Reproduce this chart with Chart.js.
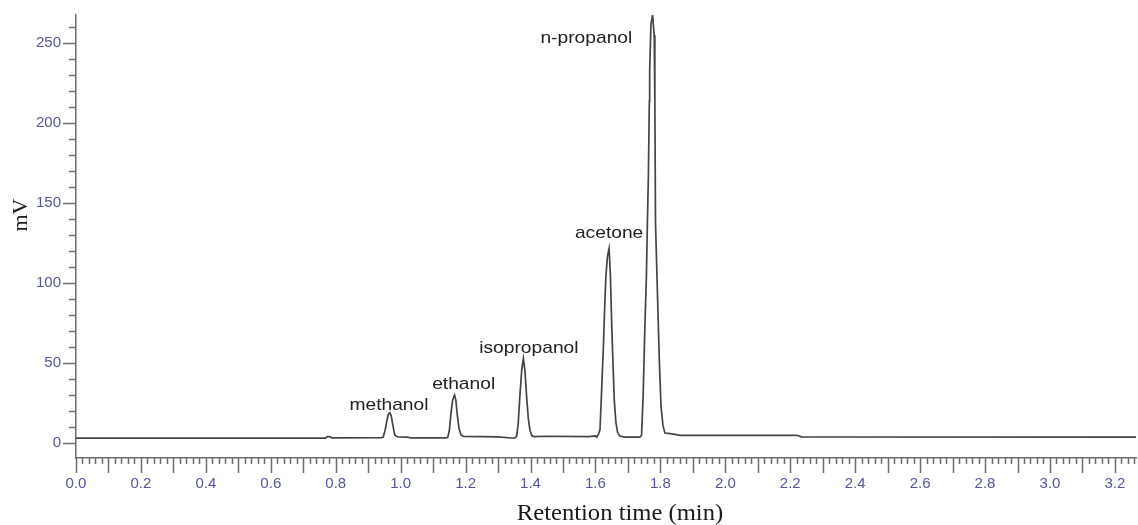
<!DOCTYPE html>
<html>
<head>
<meta charset="utf-8">
<title>Chromatogram</title>
<script src="https://cdn.jsdelivr.net/npm/chart.js@4"></script>
<style>
  html, body { margin: 0; padding: 0; background: #ffffff; }
  canvas { display: block; }
</style>
</head>
<body>
<canvas id="chromatogram" width="1138" height="525"></canvas>
<script>
// Detector trace: retention time (min) and signal (mV)
const retentionTime = [
  0.000, 0.768, 0.774, 0.781, 0.788, 0.940,
  0.946, 0.952, 0.957, 0.962, 0.967, 0.971, 0.975, 0.979, 0.982, 0.988, 0.993,
  1.020, 1.030, 1.140,
  1.145, 1.150, 1.155, 1.160, 1.166, 1.170, 1.175, 1.180, 1.186, 1.193,
  1.250, 1.300, 1.340, 1.352,
  1.357, 1.362, 1.367, 1.373, 1.378, 1.383, 1.388, 1.393, 1.398, 1.404, 1.410,
  1.450, 1.580, 1.600,
  1.604, 1.609, 1.614, 1.619, 1.624, 1.628, 1.632, 1.637, 1.642, 1.646, 1.650,
  1.654, 1.658, 1.663, 1.668, 1.675, 1.690,
  1.737, 1.742, 1.747, 1.752, 1.757, 1.760, 1.763, 1.766, 1.767, 1.771, 1.776,
  1.781, 1.783, 1.785, 1.789, 1.793, 1.797, 1.802, 1.808, 1.814, 1.830, 1.845,
  1.860, 2.220, 2.235, 3.265
];
const signal = [
  3.2, 3.2, 4.2, 4.2, 3.4, 3.5,
  3.8, 8.0, 13.5, 18.0, 19.1, 17.0, 12.6, 8.0, 5.2, 4.2, 4.0,
  3.9, 3.4, 3.4,
  3.7, 8.0, 18.7, 27.0, 30.2, 27.0, 16.6, 9.0, 5.2, 4.3,
  4.1, 4.0, 3.3, 3.3,
  4.2, 12.0, 29.0, 46.0, 53.0, 45.0, 29.0, 16.0, 8.3, 4.8, 4.1,
  4.4, 4.2, 4.6,
  3.8, 5.5, 8.5, 33.0, 58.0, 82.0, 104.0, 117.0, 121.7, 105.0, 75.0,
  50.0, 27.0, 13.0, 7.0, 4.5, 3.8,
  3.8, 5.0, 30.0, 70.8, 105.0, 137.7, 166.6, 214.0, 233.0, 262.0, 267.7,
  255.0, 214.0, 137.7, 108.0, 79.0, 50.0, 23.0, 11.0, 6.4, 6.0, 5.6,
  5.0, 5.0, 4.0, 3.9
];

// Peak identification labels (text anchored at time / level)
const peakNames = ['methanol', 'ethanol', 'isopropanol', 'acetone', 'n-propanol'];
const peakLabelTime = [0.964, 1.194, 1.395, 1.642, 1.572];
const peakLabelLevel = [21.1, 33.75, 56.25, 128.1, 250.0];

// Labelled tick values
const xTickLabels = [0.0, 0.2, 0.4, 0.6, 0.8, 1.0, 1.2, 1.4, 1.6, 1.8, 2.0, 2.2, 2.4, 2.6, 2.8, 3.0, 3.2];
const yTickLabels = [0, 50, 100, 150, 200, 250];

const xTitle = 'Retention time (min)';
const yTitle = 'mV';

const near = (a, b) => Math.abs(a - b) < 1e-6;

// Tick marks, peak names and axis titles drawn on top of the chart
const chromatogramDecor = {
  id: 'chromatogramDecor',
  afterDraw(chart) {
    const { ctx, chartArea: area, scales: { x, y } } = chart;
    ctx.save();

    // tick marks outside the plot area
    ctx.strokeStyle = '#6e6e6e';
    ctx.lineWidth = 1.5;
    ctx.beginPath();
    x.ticks.forEach(t => {
      const px = Math.round(x.getPixelForValue(t.value)) + 0.5;
      const tenth = near(t.value * 10, Math.round(t.value * 10));
      ctx.moveTo(px, area.bottom);
      ctx.lineTo(px, area.bottom + (tenth ? 15 : 6));
    });
    y.ticks.forEach(t => {
      const py = Math.round(y.getPixelForValue(t.value)) + 0.5;
      const major = near(t.value / 50, Math.round(t.value / 50));
      ctx.moveTo(area.left, py);
      ctx.lineTo(area.left - (major ? 13 : 7), py);
    });
    ctx.stroke();

    // peak names
    ctx.fillStyle = '#222222';
    ctx.font = '17px "Liberation Sans", Arial, sans-serif';
    ctx.textAlign = 'center';
    ctx.textBaseline = 'alphabetic';
    peakNames.forEach((name, i) => {
      const px = x.getPixelForValue(peakLabelTime[i]);
      const py = y.getPixelForValue(peakLabelLevel[i]);
      ctx.save();
      ctx.translate(px, py);
      ctx.scale(1.13, 1);
      ctx.fillText(name, 0, 0);
      ctx.restore();
    });

    // axis titles
    ctx.fillStyle = '#1a1a1a';
    ctx.font = '23px "Liberation Serif", "Times New Roman", serif';
    ctx.save();
    ctx.translate((area.left + area.right) / 2 + 14, area.bottom + 62);
    ctx.scale(1.07, 1);
    ctx.fillText(xTitle, 0, 0);
    ctx.restore();

    ctx.font = '22px "Liberation Serif", "Times New Roman", serif';
    ctx.textBaseline = 'middle';
    ctx.save();
    ctx.translate(area.left - 55, area.top + 200);
    ctx.rotate(-Math.PI / 2);
    ctx.fillText(yTitle, 0, 0);
    ctx.restore();

    ctx.restore();
  }
};

const tickFont = { family: '"Liberation Sans", Arial, sans-serif', size: 15 };
const tickColor = '#55559c';

new Chart(document.getElementById('chromatogram'), {
  type: 'line',
  data: {
    datasets: [{
      data: retentionTime.map((t, i) => ({ x: t, y: signal[i] })),
      borderColor: '#444444',
      borderWidth: 1.7,
      pointRadius: 0,
      tension: 0,
      fill: false
    }]
  },
  options: {
    responsive: false,
    animation: false,
    devicePixelRatio: 1,
    layout: { padding: { top: 15, right: 2, left: 0, bottom: 0 } },
    plugins: { legend: { display: false }, tooltip: { enabled: false } },
    scales: {
      x: {
        type: 'linear',
        min: 0,
        max: 3.265,
        afterFit: s => { s.height = 67; s.paddingLeft = 0; s.paddingRight = 0; },
        border: { display: true, color: '#6e6e6e', width: 1.5 },
        grid: { display: false, drawTicks: false },
        ticks: {
          stepSize: 0.02,
          includeBounds: false,
          autoSkip: false,
          maxRotation: 0,
          padding: 17,
          color: tickColor,
          font: tickFont,
          callback: v => xTickLabels.some(l => near(l, v)) ? v.toFixed(1) : ''
        }
      },
      y: {
        type: 'linear',
        min: -9.2,
        max: 267.7,
        afterFit: s => { s.width = 76; s.paddingTop = 0; s.paddingBottom = 0; },
        border: { display: true, color: '#6e6e6e', width: 1.5 },
        grid: { display: false, drawTicks: false },
        ticks: {
          stepSize: 10,
          includeBounds: false,
          autoSkip: false,
          padding: 15,
          color: tickColor,
          font: tickFont,
          callback: v => yTickLabels.some(l => near(l, v)) ? String(Math.round(v)) : ''
        }
      }
    }
  },
  plugins: [chromatogramDecor]
});
</script>
</body>
</html>
